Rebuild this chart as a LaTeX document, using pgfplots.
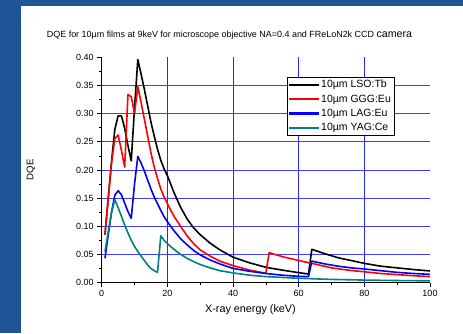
\documentclass[border=0pt]{standalone}
\usepackage{fontspec}
\setmainfont{Liberation Sans}
\usepackage{pgfplots}
\pgfplotsset{compat=1.18}
\definecolor{frameblue}{RGB}{30,85,150}
\definecolor{tealc}{RGB}{0,128,128}
\definecolor{lineblue}{RGB}{0,0,255}
\begin{document}
\begin{tikzpicture}[x=1pt,y=1pt]
\path[use as bounding box] (0,0) rectangle (463,333);
\fill[white] (0,0) rectangle (463,333);
\fill[frameblue] (0,0) rectangle (21.3,333);
\fill[frameblue] (0,327.3) rectangle (463,333);
\node[font=\fontsize{8.95}{10}\selectfont, anchor=west, inner sep=0pt] at (46.7,298) {DQE for 10µm films at 9keV for microscope objective NA=0.4 and FReLoN2k CCD {\fontsize{10.6}{12}\selectfont camera}};
\begin{axis}[
 at={(101.7pt,50.5pt)}, anchor=south west,
 scale only axis, width=328.3pt, height=225.2pt,
 xmin=0, xmax=100, ymin=0, ymax=0.40,
 axis x line=bottom, axis y line=left,
 axis line style={-, line width=0.8pt},
 xtick={0,20,40,60,80,100}, minor x tick num=1,
 ytick={0,0.05,0.10,0.15,0.20,0.25,0.30,0.35,0.40}, minor y tick num=1,
 tick align=outside, major tick length=4.5pt, minor tick length=2.5pt,
 every tick/.style={black, line width=0.6pt},
 /pgf/number format/assume math mode=true,
 yticklabel style={/pgf/number format/.cd, fixed, fixed zerofill, precision=2},
 xticklabel style={/pgf/number format/.cd, fixed},
 ticklabel style={font=\fontsize{9}{10}\selectfont},
 xlabel={X-ray energy (keV)}, ylabel={DQE},
 xlabel style={at={(axis description cs:0.453,-0.119)}, anchor=center, font=\fontsize{10.8}{12}\selectfont},
 ylabel style={at={(axis description cs:-0.2154,0.5)}, anchor=center, font=\fontsize{9.6}{11}\selectfont},
 legend style={at={(axis description cs:0.5653,0.9139)}, anchor=north west, draw=black, line width=0.8pt, fill=white,
   font=\fontsize{10.5}{12.5}\selectfont, cells={anchor=west}, inner xsep=1.5pt, inner ysep=1.2pt, row sep=1.4pt},
 legend image code/.code={\fill[#1, draw=none] (0pt,-1.1pt) rectangle (30pt,1.1pt);},
 every axis plot/.append style={line width=1.6pt, line join=round},
]
\foreach \gx in {20,40,60,80} {
  \edef\tmp{\noexpand\draw[blue!85, line width=0.7pt] (axis cs:\gx,0) -- (axis cs:\gx,0.4);}\tmp
}
\foreach \gy in {0.05,0.10,0.15,0.20,0.25,0.30,0.35} {
  \edef\tmp{\noexpand\draw[blue!75, line width=0.7pt] (axis cs:0,\gy) -- (axis cs:100,\gy);}\tmp
}
\addplot[black] coordinates {
(1,0.085)(2,0.15)(3,0.215)(4,0.272)(5,0.296)(6,0.296)(7,0.274)(8,0.243)(9,0.216)(10,0.31)(11,0.396)
(12,0.37)(13,0.343)(14,0.314)(15,0.285)(16,0.26)(17,0.237)(18,0.217)(19,0.202)(20,0.19)
(22,0.16)(24,0.134)(26,0.113)(28,0.097)(30,0.085)(33,0.07)(36,0.058)(40,0.045)(45,0.035)
(50,0.027)(55,0.022)(60,0.0175)(63,0.015)(64,0.059)(68,0.051)(72,0.044)(76,0.039)(80,0.034)
(85,0.029)(90,0.026)(95,0.023)(100,0.0205)};
\addlegendentry{10µm LSO:Tb}
\addplot[red] coordinates {
(1,0.085)(2,0.15)(3,0.212)(4,0.256)(5,0.262)(6,0.235)(7,0.205)(8,0.334)(9,0.33)(10,0.30)(11,0.348)
(12,0.32)(13,0.29)(14,0.26)(15,0.23)(16,0.205)(17,0.185)(18,0.166)(19,0.152)(20,0.14)
(22,0.118)(24,0.10)(26,0.083)(28,0.069)(30,0.058)(33,0.047)(36,0.038)(40,0.030)(45,0.022)
(50,0.0165)(51,0.053)(55,0.046)(60,0.039)(64,0.034)(70,0.026)(75,0.022)(80,0.019)(85,0.016)
(90,0.014)(95,0.012)(100,0.0105)};
\addlegendentry{10µm GGG:Eu}
\addplot[lineblue] coordinates {
(1,0.043)(2,0.085)(3,0.125)(4,0.155)(5,0.163)(6,0.156)(7,0.141)(8,0.126)(9,0.114)(10,0.175)(11,0.224)
(12,0.212)(13,0.198)(14,0.182)(15,0.166)(16,0.152)(17,0.14)(18,0.128)(19,0.117)(20,0.108)
(22,0.092)(24,0.078)(26,0.067)(28,0.057)(30,0.049)(33,0.04)(36,0.033)(40,0.025)(45,0.02)
(50,0.016)(55,0.013)(60,0.011)(63,0.0104)(64,0.038)(68,0.033)(72,0.029)(76,0.026)(80,0.024)
(85,0.021)(90,0.018)(95,0.016)(100,0.0145)};
\addlegendentry{10µm LAG:Eu}
\addplot[tealc] coordinates {
(1,0.055)(2,0.09)(3,0.125)(4,0.147)(5,0.133)(6,0.118)(7,0.102)(8,0.088)(9,0.075)(10,0.064)
(11,0.055)(12,0.047)(13,0.039)(14,0.031)(15,0.025)(16,0.021)(17,0.018)(18,0.083)(19,0.075)(20,0.069)
(22,0.059)(24,0.05)(26,0.043)(28,0.037)(30,0.032)(33,0.026)(36,0.021)(40,0.017)(45,0.013)
(50,0.0105)(55,0.009)(60,0.0075)(70,0.0055)(80,0.0043)(90,0.0035)(100,0.003)};
\addlegendentry{10µm YAG:Ce}
\end{axis}
\end{tikzpicture}
\end{document}
